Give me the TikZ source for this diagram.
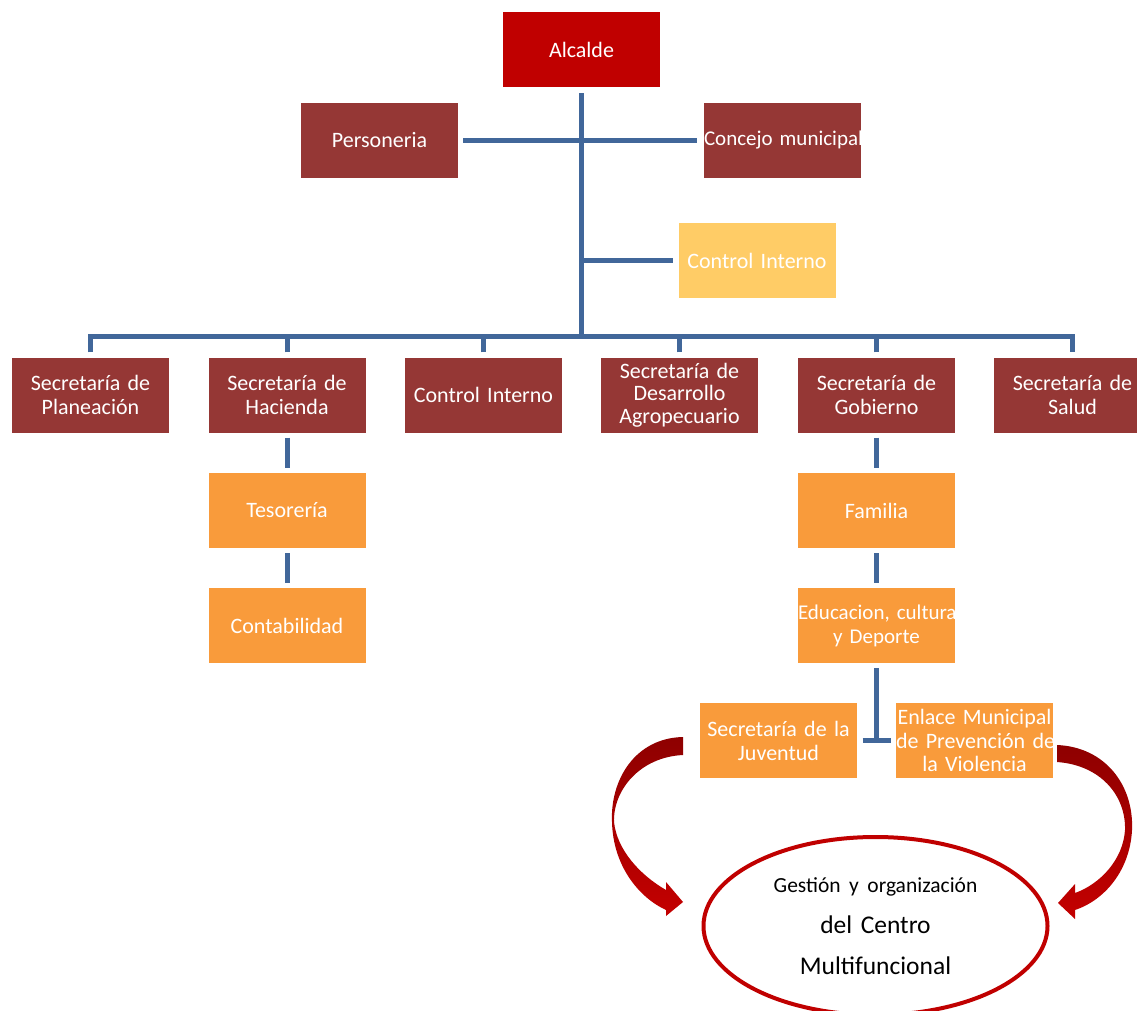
\documentclass[tikz,border=0pt]{standalone}
\usepackage{fontspec}
\setmainfont{Carlito}
\usetikzlibrary{shapes.geometric}
\definecolor{officered}{HTML}{953735}
\definecolor{mayorred}{HTML}{C00000}
\definecolor{unitorange}{HTML}{F99B3B}
\definecolor{advisoryellow}{HTML}{FFCC66}
\definecolor{lineblue}{HTML}{41679A}
\definecolor{arrowdark}{HTML}{8E0000}
\definecolor{arrowred}{HTML}{C40000}

\begin{document}
\begin{tikzpicture}
  [x=1pt,y=-1pt,
   every node/.style={rectangle,text=white,inner sep=0pt,minimum height=75pt,
     text width=157pt,align=center,font=\fontsize{22}{24}\selectfont},
   office/.style={fill=officered},
   mayor/.style={fill=mayorred},
   subunit/.style={fill=unitorange},
   advisor/.style={fill=advisoryellow},
   centre/.style={ellipse,draw=mayorred,line width=4pt,text=black,
     text width=230pt,minimum width=344pt,minimum height=178pt,
     font=\fontsize{25.5}{41}\selectfont},
   orgline/.style={draw=lineblue,line width=5pt},
   bigarrow/.style={top color=arrowdark,bottom color=arrowred}]
  \path[use as bounding box] (0,0) rectangle (1137,1011);
  \clip (0,0) rectangle (1137,1011);

  \node[mayor] (alcalde) at (581.5,49.5) {Alcalde};
  \node[office] (personeria) at (379.5,140.5) {Personeria};
  \node[office,font=\fontsize{21}{24}\selectfont] (concejo) at (782.5,140.5) {\mbox{Concejo municipal}};
  \node[advisor] (controlint) at (757,260.5) {Control Interno};

  \node[office] (planeacion) at (90.5,395) {Secretaría de\\Planeación};
  \node[office] (hacienda) at (287,395) {Secretaría de\\Hacienda};
  \node[office] (controlint2) at (483.5,395) {Control Interno};
  \node[office,font=\fontsize{22}{22.5}\selectfont] (agro) at (679.5,395) {Secretaría de\\Desarrollo\\Agropecuario};
  \node[office] (gobierno) at (876.5,395) {Secretaría de\\Gobierno};
  \node[office] (salud) at (1072.5,395) {Secretaría de\\Salud};

  \node[subunit] (tesoreria) at (287,510.5) {Tesorería};
  \node[subunit] (contabilidad) at (287,625.5) {Contabilidad};
  \node[subunit] (familia) at (876.5,510.5) {Familia};
  \node[subunit,font=\fontsize{21}{24}\selectfont] (educacion) at (876.5,625.5) {\mbox{Educacion, cultura}\\y Deporte};
  \node[subunit] (juventud) at (778.5,740.5) {\mbox{Secretaría de la}\\Juventud};
  \node[subunit,font=\fontsize{22}{23.5}\selectfont] (enlace) at (974.5,740.5) {\mbox{Enlace Municipal}\\\mbox{de Prevención de}\\la Violencia};

  \node[centre] (centro) at (875.5,926) {{\fontsize{21.5}{41}\selectfont Gestión y organización}\\del Centro\\Multifuncional};

  \coordinate (bus) at (581.5,336);
  \coordinate (tee) at (educacion.south |- juventud.east);

  % trunk and staff offices
  \draw[orgline,shorten <=6pt] (alcalde) -- (bus);
  \draw[orgline,shorten <=5pt,shorten >=7pt] (personeria) -- (concejo);
  \draw[orgline,shorten >=5pt] ([xshift=-2pt]alcalde.south |- controlint.west) -- (controlint);

  % secretariats
  \draw[orgline] ([yshift=5pt]planeacion.north) -- (planeacion.north |- bus)
    -- (salud.north |- bus) -- ([yshift=5pt]salud.north);
  \foreach \n in {hacienda,controlint2,agro,gobierno}
    \draw[orgline] ([yshift=5pt]\n.north) -- (\n.north |- bus);

  % dependencies
  \draw[orgline,shorten <=5pt,shorten >=5pt] (hacienda) -- (tesoreria);
  \draw[orgline,shorten <=5pt,shorten >=5pt] (tesoreria) -- (contabilidad);
  \draw[orgline,shorten <=5pt,shorten >=5pt] (gobierno) -- (familia);
  \draw[orgline,shorten <=5pt,shorten >=5pt] (familia) -- (educacion);
  \draw[orgline,shorten <=5pt] (educacion) -- (tee);
  \draw[orgline] ([xshift=-14pt]tee) -- ([xshift=14pt]tee);

  % curved arrows into the centre
  \shade[bigarrow] (683,737) .. controls (635,738) and (610,780) .. (612,822)
    .. controls (613,865) and (638,897) .. (666,910) -- (666,916) -- (683,902)
    -- (666,882) -- (666,890) .. controls (640,875) and (617,850) .. (614,822)
    .. controls (613,790) and (640,757) .. (683,755) -- cycle;
  \shade[bigarrow] (1057,745) .. controls (1105,747) and (1134,785) .. (1132,830)
    .. controls (1130,870) and (1105,900) .. (1075,910) -- (1075,919) -- (1058,903)
    -- (1075,884) -- (1075,893) .. controls (1100,884) and (1123,860) .. (1125,830)
    .. controls (1126,795) and (1100,765) .. (1057,762) -- cycle;

\end{tikzpicture}
\end{document}
